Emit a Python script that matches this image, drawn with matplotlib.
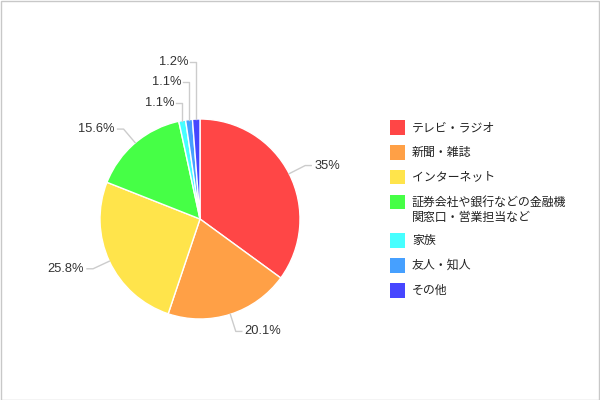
import matplotlib
matplotlib.use("Agg")
import matplotlib.pyplot as plt
import matplotlib.patches as mpatches
import numpy as np

categories = ["テレビ・ラジオ", "新聞・雑誌", "インターネット",
              "証券会社や銀行などの金融機\n関窓口・営業担当など",
              "家族", "友人・知人", "その他"]
values = [35, 20.1, 25.8, 15.6, 1.1, 1.1, 1.2]
value_labels = ["35%", "20.1%", "25.8%", "15.6%", "1.1%", "1.1%", "1.2%"]
colors = ["#ff4646", "#ffa046", "#ffe44b", "#46ff46", "#46ffff", "#46a0ff", "#4646ff"]

W, H = 600, 400
fig = plt.figure(figsize=(6, 4), dpi=100)
fig.patch.set_facecolor("white")

# border
fig.add_artist(mpatches.Rectangle((0.5 / W, 0.5 / H), 1 - 1.5 / W, 1 - 1.5 / H,
                                  transform=fig.transFigure, fill=False,
                                  edgecolor="#c8c8c8", linewidth=1))

# pie axes: centre (200,219) px, radius 100 px
cx, cy, R = 200, 219, 100
half = 150
ax = fig.add_axes([(cx - half) / W, (H - cy - half) / H, 2 * half / W, 2 * half / H])

wedges, _ = ax.pie(values, colors=colors, startangle=90, counterclock=False,
                   radius=1.0, wedgeprops=dict(edgecolor="white", linewidth=1))
ax.set_xlim(-1.5, 1.5)
ax.set_ylim(-1.5, 1.5)
ax.set_aspect("equal")
ax.axis("off")

total = sum(values)
cum = np.cumsum([0] + values[:-1])
line_col = "#cccccc"
lab_font = dict(family=["Liberation Sans", "DejaVu Sans"], fontsize=9.3, color="#333333")
r_elb = 1.18
prev_y = None
for i, v in enumerate(values):
    ang = np.deg2rad((cum[i] + v / 2) / total * 360)  # clockwise from top
    sx, sy = np.sin(ang), np.cos(ang)
    if v / total < 0.03:
        # small slice: vertical leader upwards, stacked labels
        ex, ey = sx, sy
        ly = r_elb * sy
        if prev_y is not None and ly < prev_y + 0.205:
            ly = prev_y + 0.205
        prev_y = ly
        ax.plot([ex, ex, ex - 0.06], [ey, ly, ly], color=line_col, lw=1, clip_on=False)
        ax.text(ex - 0.08, ly, value_labels[i], ha="right", va="center", **lab_font)
    else:
        ex, ey = sx, sy
        bx, by = r_elb * sx, r_elb * sy
        d = 1 if sx >= 0 else -1
        ax.plot([ex, bx, bx + d * 0.06], [ey, by, by], color=line_col, lw=1, clip_on=False)
        ax.text(bx + d * 0.09, by, value_labels[i], ha="left" if d > 0 else "right",
                va="center", **lab_font)

# legend (manual)
leg_font = dict(family=["Noto Sans CJK JP", "DejaVu Sans"], fontsize=8.6, color="#222222")
y = 127.5
sq = 14.5
for i, cat in enumerate(categories):
    fig.add_artist(mpatches.Rectangle((390 / W, (H - y - sq / 2) / H), sq / W, sq / H,
                                      transform=fig.transFigure, facecolor=colors[i],
                                      edgecolor="none"))
    lines = cat.split("\n")
    for j, ln in enumerate(lines):
        fig.text(412 / W, (H - y - j * 16) / H, ln, ha="left", va="center", **leg_font)
    y += 24.8 + (len(lines) - 1) * 14

fig.savefig("out.png", dpi=100)
